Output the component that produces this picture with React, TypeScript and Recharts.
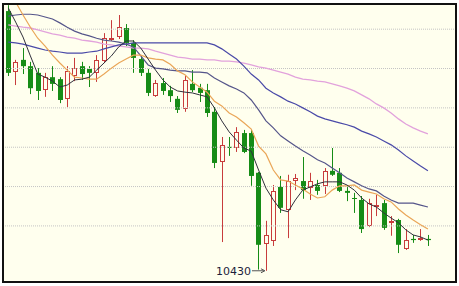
import { Bar, ComposedChart, Line, ReferenceDot, ReferenceLine, XAxis, YAxis } from 'recharts';

// daily candles, oldest first
const opens = [
  13730, 12955, 13110, 13030, 12945, 12725, 12890, 12865, 12615, 12905,
  13030, 12995, 12945, 13095, 13360, 13400, 13515, 13325, 13120, 12945,
  12650, 12815, 12725, 12615, 12485, 12805, 12755, 12725, 12450, 11815,
  12005, 11990, 12180, 12180, 11675, 10770, 10810, 11495, 11205, 11570,
  11570, 11480, 11520, 11510, 11700, 11675, 11445, 11355, 11330, 11000,
  11255, 11290, 11040, 11075, 10710, 10835, 10835, 10835,
];
const closes = [
  12945, 13085, 13030, 12750, 12715, 12890, 12805, 12600, 12970, 13005,
  12930, 12945, 13110, 13385, 13385, 13525, 13325, 13135, 12945, 12690,
  12815, 12715, 12650, 12475, 12855, 12725, 12690, 12435, 11800, 12030,
  11990, 12195, 11940, 11635, 10760, 10885, 11445, 11230, 11570, 11610,
  11455, 11570, 11445, 11700, 11650, 11445, 11420, 11345, 10960, 11290,
  11265, 10975, 11065, 10760, 10820, 10820, 10845, 10820,
];
const highs = [
  13805, 13110, 13260, 13085, 13005, 12945, 13030, 12890, 13030, 13135,
  13085, 13030, 13170, 13450, 13615, 13680, 13565, 13360, 13160, 12995,
  12855, 12880, 12780, 12650, 12905, 12980, 12805, 12805, 12510, 12130,
  12130, 12255, 12220, 12230, 11685, 11065, 11520, 11635, 11650, 11660,
  11875, 11675, 11585, 11735, 11990, 11735, 11510, 11420, 11380, 11345,
  11395, 11330, 11125, 11090, 10960, 10885, 10960, 10885,
];
const lows = [
  12905, 12790, 12930, 12675, 12600, 12640, 12715, 12560, 12510, 12840,
  12855, 12765, 12830, 13070, 13350, 13375, 13285, 12945, 12905, 12650,
  12640, 12665, 12575, 12435, 12450, 12700, 12575, 12385, 11735, 10795,
  11890, 11940, 11925, 11510, 10445, 10430, 10745, 11165, 10845, 11455,
  11345, 11330, 11395, 11405, 11635, 11430, 11315, 11165, 10910, 10985,
  11125, 10950, 10875, 10655, 10695, 10785, 10810, 10745,
];

// moving averages as drawn
const ma5 = [
  13770, 13590, 13400, 13160, 12930, 12890, 12840, 12765, 12790, 12855,
  12865, 12890, 12980, 13070, 13160, 13275, 13350, 13350, 13260, 13120,
  12980, 12855, 12765, 12715, 12700, 12690, 12665, 12640, 12500, 12335,
  12195, 12090, 11990, 11950, 11710, 11480, 11330, 11205, 11180, 11330,
  11455, 11495, 11535, 11560, 11560, 11560, 11520, 11455, 11355, 11280,
  11240, 11165, 11100, 11040, 10950, 10885, 10860, 10820,
];
const ma10 = [
  13995, 13845, 13680, 13525, 13385, 13285, 13170, 13070, 12980, 12890,
  12880, 12865, 12865, 12930, 13005, 13070, 13120, 13170, 13170, 13135,
  13120, 13110, 13055, 12970, 12920, 12830, 12765, 12700, 12585, 12525,
  12435, 12385, 12310, 12230, 12015, 11915, 11710, 11585, 11570, 11520,
  11470, 11405, 11355, 11370, 11455, 11510, 11510, 11520, 11455, 11430,
  11405, 11345, 11305, 11215, 11140, 11075, 11015, 10960,
];
const ma20 = [
  13665, 13680, 13690, 13690, 13680, 13655, 13630, 13580, 13525, 13475,
  13440, 13415, 13385, 13360, 13350, 13335, 13310, 13275, 13160, 13045,
  13005, 12995, 12980, 12970, 12970, 12955, 12955, 12945, 12880, 12830,
  12780, 12740, 12690, 12600, 12475, 12335, 12245, 12145, 12080, 12015,
  11955, 11900, 11840, 11800, 11735, 11675, 11610, 11560, 11510, 11470,
  11445, 11380, 11330, 11290, 11290, 11290, 11265, 11240,
];
const ma50 = [
  13335, 13325, 13310, 13285, 13260, 13235, 13220, 13210, 13195, 13195,
  13195, 13210, 13220, 13250, 13275, 13300, 13310, 13325, 13325, 13325,
  13325, 13325, 13325, 13325, 13325, 13325, 13325, 13325, 13300, 13250,
  13185, 13120, 13030, 12930, 12855, 12750, 12690, 12640, 12585, 12550,
  12500, 12450, 12395, 12360, 12335, 12310, 12285, 12255, 12205, 12170,
  12130, 12080, 12030, 11965, 11890, 11825, 11760, 11700,
];
const ma100 = [
  13555, 13540, 13525, 13515, 13490, 13465, 13440, 13425, 13400, 13385,
  13360, 13350, 13335, 13310, 13300, 13285, 13275, 13260, 13260, 13250,
  13220, 13195, 13170, 13145, 13135, 13120, 13120, 13110, 13110, 13095,
  13095, 13085, 13070, 13045, 13020, 13005, 12980, 12955, 12930, 12890,
  12865, 12855, 12840, 12830, 12805, 12780, 12750, 12715, 12665, 12615,
  12550, 12500, 12435, 12360, 12295, 12245, 12205, 12170,
];

const gridLevels = [11000, 11500, 12000, 12500, 13000, 13500];
const lowMark = { index: 35, value: 10430 };

const data = opens.map((open, i) => ({
  idx: i,
  open,
  close: closes[i],
  high: highs[i],
  low: lows[i],
  range: [lows[i], highs[i]],
  ma5: ma5[i],
  ma10: ma10[i],
  ma20: ma20[i],
  ma50: ma50[i],
  ma100: ma100[i],
}));

const BG = '#ffffee';
const UP = '#c83c3c';
const DOWN = '#168c16';

function Candle(props: any) {
  const { x, y, width, height, payload } = props;
  if (!payload || x == null) return null;
  const top = Math.min(y, y + height);
  const bottom = Math.max(y, y + height);
  const span = payload.high - payload.low;
  const k = span > 0 ? (bottom - top) / span : 0;
  const py = (v: number) => top + (payload.high - v) * k;
  const cx = Math.round(x + width / 2) + 0.5;
  const yo = py(payload.open);
  const yc = py(payload.close);
  const bTop = Math.min(yo, yc);
  const bH = Math.max(1, Math.abs(yo - yc));
  if (payload.close >= payload.open) {
    return (
      <g>
        <line x1={cx} x2={cx} y1={top} y2={bottom} stroke={UP} strokeWidth={1} />
        <rect x={cx - 2} y={Math.round(bTop) + 0.5} width={4} height={Math.max(1, Math.round(bH) - 1)} fill={BG} stroke={UP} strokeWidth={1} />
      </g>
    );
  }
  return (
    <g>
      <line x1={cx} x2={cx} y1={top} y2={bottom} stroke={DOWN} strokeWidth={1} />
      <rect x={cx - 2.5} y={bTop} width={5} height={bH} fill={DOWN} />
    </g>
  );
}

function LowLabel(props: any) {
  const { cx, cy } = props;
  if (cx == null || cy == null) return null;
  return (
    <g>
      <text x={cx - 15} y={cy + 4.5} textAnchor="end" fontSize={11} fontFamily="DejaVu Sans, Verdana, sans-serif" fill="#1e1e3c">
        {String(lowMark.value)}
      </text>
      <line x1={cx - 14} x2={cx - 2} y1={cy} y2={cy} stroke="#555" strokeWidth={1} />
      <path d={`M${cx - 5},${cy - 2} L${cx - 1},${cy} L${cx - 5},${cy + 2}`} fill="none" stroke="#555" strokeWidth={1} />
    </g>
  );
}

export default function App() {
  return (
    <div style={{ position: 'absolute', left: 0, top: 0, width: 459, height: 286, background: '#fff' }}>
      <div style={{ position: 'absolute', left: 2, top: 3, width: 455, height: 280, background: BG }} />
      <div style={{ position: 'absolute', left: 0, top: 0 }}>
        <ComposedChart width={459} height={286} data={data} margin={{ top: 4, right: 4, bottom: 5, left: 3 }}>
          <XAxis type="number" dataKey="idx" domain={[-0.72, 60.68]} hide allowDataOverflow />
          <YAxis type="number" domain={[10300, 13820]} hide allowDataOverflow />
          {gridLevels.map((v) => (
            <ReferenceLine key={v} y={v} stroke="#c4c4c4" strokeDasharray="1 1" />
          ))}
          <Bar dataKey="range" barSize={5} shape={(p: any) => <Candle {...p} />} isAnimationActive={false} />
          <Line dataKey="ma100" stroke="#e2a2dc" strokeWidth={1.3} dot={false} isAnimationActive={false} />
          <Line dataKey="ma50" stroke="#4a4aa8" strokeWidth={1.2} dot={false} isAnimationActive={false} />
          <Line dataKey="ma20" stroke="#55558a" strokeWidth={1.2} dot={false} isAnimationActive={false} />
          <Line dataKey="ma10" stroke="#eaa658" strokeWidth={1.2} dot={false} isAnimationActive={false} />
          <Line dataKey="ma5" stroke="#30303c" strokeWidth={1} dot={false} isAnimationActive={false} />
          <ReferenceDot x={lowMark.index} y={lowMark.value} r={0} ifOverflow="visible" shape={(p: any) => <LowLabel {...p} />} />
        </ComposedChart>
      </div>
      <div style={{ position: 'absolute', left: 2, top: 3, width: 455, height: 280, boxSizing: 'border-box', border: '2px solid #111', pointerEvents: 'none' }} />
    </div>
  );
}
